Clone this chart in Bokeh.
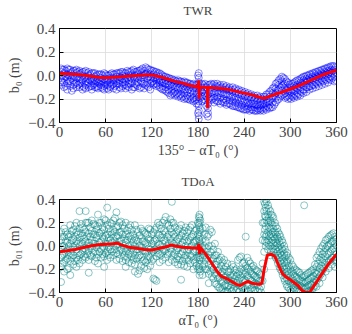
from bokeh.plotting import figure
from bokeh.layouts import column
from bokeh.models import Range1d, FixedTicker, Title
from bokeh.embed import file_html
from bokeh.resources import INLINE

# ---------------- data ----------------
x_ticks = [0, 60, 120, 180, 240, 300, 360]
y_ticks = [-0.4, -0.2, 0.0, 0.2, 0.4]
y_tick_labels = ["\u22120.4", "\u22120.2", "0.0", "0.2", "0.4"]

# TWR scatter: sample columns (x) and the y values seen at each
twr_sx = [2, 6, 10, 14, 18, 22, 26, 30, 34, 38, 42, 46, 50, 54, 58, 62, 66, 70, 74, 78,
          82, 86, 90, 94, 98, 102, 106, 110, 114, 118, 122, 126, 130, 134, 138, 142, 146,
          150, 154, 158, 162, 166, 170, 174, 178, 181, 185, 189, 193, 197, 201, 205, 209,
          213, 217, 221, 225, 229, 233, 237, 241, 245, 249, 253, 257, 261, 265, 269, 273,
          277, 281, 285, 289, 293, 297, 301, 305, 309, 313, 317, 321, 325, 329, 333, 337,
          341, 345, 349, 353, 357]
twr_sy = [
    [0.06, 0.03, 0.0, -0.04, -0.08], [0.05, 0.02, -0.02, -0.06, -0.1],
    [0.06, 0.01, -0.03, -0.07, -0.12], [0.05, 0.02, -0.01, -0.05, -0.09],
    [0.04, 0.0, -0.04, -0.08, -0.11], [0.05, 0.02, -0.02, -0.06, -0.1],
    [0.04, 0.01, -0.03, -0.07, -0.1], [0.03, 0.0, -0.04, -0.09, -0.12],
    [0.04, -0.01, -0.05, -0.08, -0.11], [0.03, 0.0, -0.03, -0.06, -0.1],
    [0.02, -0.02, -0.05, -0.09, -0.12], [0.02, -0.01, -0.04, -0.07, -0.1],
    [0.01, -0.03, -0.06, -0.09, -0.11], [0.01, -0.02, -0.05, -0.08, -0.1],
    [0.02, -0.03, -0.06, -0.09, -0.12], [0.0, -0.03, -0.05, -0.08, -0.11],
    [0.01, -0.02, -0.06, -0.09, -0.1], [0.01, -0.02, -0.04, -0.07, -0.11],
    [0.02, -0.01, -0.05, -0.08, -0.12], [0.02, -0.01, -0.04, -0.07, -0.1],
    [0.03, 0.0, -0.03, -0.06, -0.09], [0.02, -0.01, -0.05, -0.08, -0.11],
    [0.03, 0.0, -0.04, -0.07, -0.1], [0.04, 0.01, -0.03, -0.06, -0.12],
    [0.03, 0.0, -0.03, -0.07, -0.1], [0.04, 0.01, -0.02, -0.06, -0.09],
    [0.05, 0.02, -0.02, -0.05, -0.1], [0.04, 0.0, -0.03, -0.07, -0.11],
    [0.06, 0.02, -0.02, -0.06, -0.09], [0.05, 0.01, -0.03, -0.07, -0.12],
    [0.04, 0.01, -0.02, -0.05, -0.08], [0.03, 0.0, -0.04, -0.07, -0.09],
    [0.02, -0.01, -0.04, -0.06, -0.1], [0.0, -0.03, -0.06, -0.09, -0.12],
    [-0.01, -0.04, -0.07, -0.1, -0.13], [-0.02, -0.05, -0.08, -0.12, -0.15],
    [-0.03, -0.06, -0.09, -0.13, -0.16], [-0.04, -0.07, -0.1, -0.14, -0.17],
    [-0.04, -0.07, -0.11, -0.15, -0.18], [-0.05, -0.08, -0.12, -0.16, -0.19],
    [-0.05, -0.09, -0.12, -0.15, -0.2], [-0.06, -0.09, -0.13, -0.17, -0.2],
    [-0.07, -0.1, -0.14, -0.18, -0.21], [-0.07, -0.11, -0.15, -0.19, -0.22],
    [-0.08, -0.11, -0.15, -0.2, -0.24],
    [0.02, -0.02, -0.06, -0.1, -0.14, -0.18, -0.22, -0.26, -0.3, -0.34, -0.37],
    [-0.07, -0.1, -0.14, -0.18, -0.22], [-0.07, -0.1, -0.13, -0.17, -0.21],
    [-0.08, -0.12, -0.16, -0.2, -0.24, -0.28, -0.32, -0.35],
    [-0.07, -0.1, -0.14, -0.18, -0.21], [-0.07, -0.11, -0.15, -0.19, -0.23],
    [-0.07, -0.1, -0.14, -0.18, -0.22], [-0.08, -0.11, -0.15, -0.19, -0.24],
    [-0.08, -0.12, -0.16, -0.2, -0.23], [-0.09, -0.12, -0.16, -0.21, -0.25],
    [-0.1, -0.13, -0.17, -0.21, -0.24], [-0.1, -0.14, -0.18, -0.22, -0.26],
    [-0.11, -0.15, -0.19, -0.23, -0.26], [-0.12, -0.16, -0.2, -0.24, -0.27],
    [-0.13, -0.17, -0.21, -0.25, -0.28], [-0.14, -0.18, -0.22, -0.26, -0.29],
    [-0.15, -0.19, -0.23, -0.26, -0.28], [-0.16, -0.2, -0.24, -0.27, -0.29],
    [-0.17, -0.21, -0.24, -0.27, -0.3], [-0.17, -0.21, -0.25, -0.28, -0.3],
    [-0.18, -0.22, -0.25, -0.28, -0.3], [-0.18, -0.21, -0.24, -0.27, -0.3],
    [-0.16, -0.2, -0.23, -0.26, -0.29], [-0.14, -0.18, -0.22, -0.25, -0.28],
    [-0.11, -0.15, -0.19, -0.23, -0.27], [-0.07, -0.11, -0.15, -0.19, -0.23],
    [-0.04, -0.08, -0.12, -0.16, -0.2], [-0.01, -0.05, -0.09, -0.13, -0.17],
    [-0.03, -0.07, -0.11, -0.15, -0.19], [-0.06, -0.1, -0.13, -0.17, -0.2],
    [-0.07, -0.1, -0.14, -0.17, -0.2], [-0.06, -0.09, -0.13, -0.16, -0.19],
    [-0.04, -0.08, -0.11, -0.15, -0.18], [-0.03, -0.06, -0.1, -0.13, -0.17],
    [-0.01, -0.04, -0.08, -0.12, -0.15], [0.0, -0.03, -0.06, -0.1, -0.14],
    [0.01, -0.02, -0.05, -0.09, -0.12], [0.02, -0.01, -0.04, -0.08, -0.11],
    [0.03, 0.0, -0.03, -0.06, -0.1], [0.04, 0.01, -0.02, -0.05, -0.09],
    [0.05, 0.02, -0.01, -0.04, -0.08], [0.06, 0.03, 0.0, -0.03, -0.07],
    [0.07, 0.04, 0.01, -0.02, -0.06], [0.08, 0.05, 0.02, -0.01, -0.04],
    [0.08, 0.05, 0.02, -0.01, -0.05],
]
twr_sx2 = [4, 8, 12, 16, 20, 24, 28, 32, 36, 40, 44, 48, 52, 56, 60, 64, 68, 72, 76, 80,
           84, 88, 92, 96, 100, 104, 108, 112, 116, 120, 124, 128, 132, 136, 140, 144, 148,
           152, 156, 160, 164, 168, 172, 176, 180, 183, 187, 191, 195, 199, 203, 207, 211,
           215, 219, 223, 227, 231, 235, 239, 243, 247, 251, 255, 259, 263, 267, 271, 275,
           279, 283, 287, 291, 295, 299, 303, 307, 311, 315, 319, 323, 327, 331, 335, 339,
           343, 347, 351, 355, 359]
twr_sy2 = [
    [0.05, 0.0, -0.06], [0.04, -0.01, -0.09], [0.05, 0.0, -0.05], [0.03, -0.02, -0.13],
    [0.04, -0.01, -0.07], [0.03, -0.02, -0.08], [0.02, -0.03, -0.06], [0.03, -0.02, -0.1],
    [0.02, -0.03, -0.07], [0.01, -0.04, -0.09], [0.02, -0.03, -0.08], [0.0, -0.05, -0.1],
    [0.01, -0.04, -0.07], [0.0, -0.05, -0.11], [0.01, -0.04, -0.08], [0.0, -0.04, -0.12],
    [0.02, -0.03, -0.08], [0.01, -0.04, -0.09], [0.02, -0.03, -0.07], [0.03, -0.02, -0.11],
    [0.02, -0.03, -0.08], [0.04, -0.02, -0.09], [0.03, -0.02, -0.07], [0.05, -0.01, -0.1],
    [0.03, -0.02, -0.08], [0.04, -0.01, -0.11], [0.06, 0.0, -0.07], [0.07, 0.01, -0.08],
    [0.05, -0.01, -0.1], [0.04, -0.01, -0.06], [0.03, -0.02, -0.07], [0.02, -0.03, -0.08],
    [0.01, -0.05, -0.11], [-0.01, -0.06, -0.12], [-0.02, -0.07, -0.14],
    [-0.03, -0.08, -0.17], [-0.04, -0.09, -0.15], [-0.05, -0.1, -0.16],
    [-0.05, -0.1, -0.17], [-0.06, -0.11, -0.18], [-0.06, -0.12, -0.19],
    [-0.07, -0.12, -0.2], [-0.08, -0.13, -0.2], [-0.08, -0.13, -0.21],
    [0.0, -0.08, -0.16, -0.24, -0.32], [-0.08, -0.13, -0.19], [-0.08, -0.12, -0.2],
    [-0.1, -0.18, -0.26, -0.33], [-0.08, -0.13, -0.2], [-0.08, -0.14, -0.2],
    [-0.09, -0.14, -0.21], [-0.09, -0.15, -0.22], [-0.1, -0.15, -0.22],
    [-0.1, -0.16, -0.23], [-0.11, -0.17, -0.24], [-0.12, -0.18, -0.25],
    [-0.12, -0.19, -0.26], [-0.13, -0.2, -0.27], [-0.14, -0.21, -0.28],
    [-0.15, -0.22, -0.29], [-0.16, -0.23, -0.29], [-0.17, -0.24, -0.3],
    [-0.18, -0.24, -0.29], [-0.19, -0.25, -0.3], [-0.19, -0.26, -0.29],
    [-0.2, -0.25, -0.29], [-0.18, -0.24, -0.28], [-0.16, -0.22, -0.27],
    [-0.13, -0.2, -0.27], [-0.1, -0.17, -0.25], [-0.06, -0.13, -0.21],
    [-0.03, -0.1, -0.18], [-0.02, -0.08, -0.16], [-0.05, -0.12, -0.18],
    [-0.08, -0.13, -0.19], [-0.07, -0.12, -0.18], [-0.05, -0.1, -0.17],
    [-0.04, -0.09, -0.16], [-0.02, -0.07, -0.14], [-0.01, -0.05, -0.12],
    [0.0, -0.04, -0.1], [0.01, -0.03, -0.09], [0.02, -0.02, -0.08], [0.03, -0.01, -0.07],
    [0.04, 0.0, -0.06], [0.05, 0.01, -0.05], [0.06, 0.02, -0.04], [0.07, 0.03, -0.03],
    [0.08, 0.04, -0.02], [0.07, 0.03, -0.04],
]

# TWR mean line
twr_lx = [0, 10, 20, 30, 40, 50, 60, 70, 80, 90, 100, 110, 120, 130, 140, 150, 160, 170,
          178, 180, 181, 181.5, 182, 190, 192, 192.5, 193, 200, 210, 220, 230, 240, 250,
          260, 266, 270, 280, 290, 300, 310, 320, 330, 340, 350, 360]
twr_ly = [0.02, 0.015, 0.01, 0.005, -0.005, -0.015, -0.02, -0.015, -0.01, -0.005, 0.0,
          0.005, 0.005, -0.01, -0.03, -0.05, -0.065, -0.085, -0.095, -0.1, -0.04, -0.2,
          -0.1, -0.1, -0.1, -0.28, -0.1, -0.105, -0.11, -0.12, -0.135, -0.15, -0.165,
          -0.185, -0.195, -0.185, -0.16, -0.14, -0.115, -0.09, -0.06, -0.03, 0.0, 0.025,
          0.045]

# TDoA scatter
tdoa_sx = [2, 6, 10, 14, 18, 22, 26, 30, 34, 38, 42, 46, 50, 54, 58, 62, 66, 70, 74, 78,
           82, 86, 90, 94, 98, 102, 106, 110, 114, 118, 122, 126, 130, 134, 138, 142, 146,
           150, 154, 158, 162, 166, 170, 174, 178, 182, 186, 190, 194, 198, 202, 206, 210,
           214, 218, 222, 226, 230, 234, 238, 242, 246, 250, 254, 258, 262, 266, 268, 271,
           274, 277, 280, 283, 286, 289, 292, 295, 298, 302, 306, 310, 314, 318, 322, 326,
           330, 334, 338, 342, 346, 350, 354, 358]
tdoa_sy = [
    [0.12, 0.05, -0.02, -0.1, -0.18, -0.31], [0.15, 0.08, 0.0, -0.07, -0.14, -0.22],
    [0.1, 0.03, -0.04, -0.11, -0.2], [0.18, 0.1, 0.02, -0.06, -0.13, -0.25],
    [0.14, 0.06, -0.01, -0.08, -0.16], [0.2, 0.12, 0.04, -0.03, -0.1, -0.18],
    [0.3, 0.15, 0.07, 0.0, -0.08, -0.15], [0.16, 0.09, 0.02, -0.05, -0.12],
    [0.3, 0.2, 0.12, 0.04, -0.03, -0.1], [0.2, 0.11, 0.03, -0.04, -0.12, -0.23],
    [0.22, 0.13, 0.05, -0.02, -0.09], [0.18, 0.1, 0.02, -0.05, -0.13],
    [0.27, 0.17, 0.09, 0.01, -0.07, -0.15], [0.2, 0.12, 0.04, -0.03, -0.1],
    [0.23, 0.14, 0.06, -0.02, -0.09, -0.18], [0.33, 0.18, 0.1, 0.02, -0.05, -0.12],
    [0.2, 0.12, 0.05, -0.03, -0.1], [0.22, 0.14, 0.07, 0.0, -0.08],
    [0.29, 0.16, 0.08, 0.01, -0.06, -0.12], [0.2, 0.12, 0.04, -0.04, -0.11],
    [0.18, 0.1, 0.02, -0.05, -0.13], [0.2, 0.1, 0.03, -0.05, -0.12, -0.18],
    [0.16, 0.08, 0.0, -0.07, -0.14], [0.14, 0.06, -0.02, -0.09, -0.15],
    [0.18, 0.07, 0.0, -0.08, -0.16, -0.22], [0.12, 0.04, -0.03, -0.1, -0.24],
    [0.15, 0.06, -0.02, -0.1, -0.17], [0.12, 0.04, -0.04, -0.12, -0.19],
    [0.1, 0.02, -0.05, -0.12, -0.2], [0.14, 0.05, -0.03, -0.1, -0.17],
    [0.12, 0.04, -0.04, -0.11, -0.28], [0.16, 0.06, -0.02, -0.09, -0.3],
    [0.18, 0.09, 0.01, -0.07, -0.14], [0.2, 0.1, 0.02, -0.05, -0.12],
    [0.25, 0.12, 0.04, -0.03, -0.1], [0.18, 0.1, 0.02, -0.06, -0.14],
    [0.38, 0.2, 0.12, 0.03, -0.05, -0.12], [0.16, 0.08, 0.0, -0.07, -0.14],
    [0.14, 0.06, -0.02, -0.09, -0.16], [0.18, 0.09, 0.01, -0.07, -0.16, -0.29],
    [0.13, 0.05, -0.03, -0.1, -0.17], [0.12, 0.04, -0.04, -0.11, -0.18],
    [0.16, 0.07, -0.01, -0.08, -0.15], [0.1, 0.03, -0.05, -0.12, -0.2],
    [0.14, 0.05, -0.03, -0.1, -0.17],
    [0.27, 0.24, 0.2, 0.16, 0.12, 0.08, 0.04, 0.0, -0.04, -0.08, -0.12, -0.16, -0.2, -0.25],
    [0.15, 0.06, -0.02, -0.1, -0.18, -0.25], [0.16, 0.04, -0.05, -0.12, -0.2],
    [0.1, 0.0, -0.08, -0.16, -0.24, -0.32], [0.12, 0.0, -0.1, -0.18, -0.26],
    [0.02, -0.08, -0.16, -0.24, -0.32], [-0.05, -0.13, -0.21, -0.28, -0.35],
    [-0.1, -0.17, -0.24, -0.31, -0.38], [-0.12, -0.2, -0.27, -0.34, -0.4],
    [-0.15, -0.22, -0.29, -0.35, -0.39], [-0.2, -0.25, -0.3, -0.36],
    [-0.18, -0.25, -0.31, -0.37], [-0.2, -0.26, -0.32, -0.38],
    [-0.1, -0.22, -0.28, -0.34, -0.39], [-0.15, -0.24, -0.3, -0.36],
    [0.08, -0.17, -0.23, -0.3, -0.37], [-0.13, -0.2, -0.27, -0.33, -0.39],
    [-0.18, -0.24, -0.3, -0.36], [-0.2, -0.26, -0.32, -0.38],
    [-0.22, -0.28, -0.34, -0.39], [-0.25, -0.3, -0.35, -0.4],
    [0.38, 0.3, 0.2, 0.1, -0.05, -0.2], [0.4, 0.33, 0.25, 0.17, 0.08, 0.0],
    [0.35, 0.27, 0.2, 0.12, 0.05, -0.03], [0.3, 0.22, 0.15, 0.08, 0.0, -0.08],
    [0.26, 0.18, 0.12, 0.05, -0.02], [0.2, 0.12, 0.06, 0.0, -0.08],
    [0.15, 0.08, 0.02, -0.05, -0.12], [0.1, 0.04, -0.03, -0.1, -0.18],
    [0.05, -0.02, -0.08, -0.15, -0.22], [0.0, -0.07, -0.14, -0.2, -0.28],
    [-0.08, -0.14, -0.2, -0.27, -0.33], [-0.1, -0.17, -0.24, -0.3, -0.36],
    [-0.16, -0.22, -0.28, -0.34, -0.39], [-0.2, -0.26, -0.32, -0.37],
    [-0.22, -0.28, -0.34, -0.39], [-0.25, -0.3, -0.35, -0.39],
    [0.35, -0.26, -0.32, -0.37], [-0.24, -0.3, -0.35, -0.39],
    [-0.22, -0.28, -0.33, -0.38], [-0.2, -0.26, -0.31, -0.36],
    [-0.1, -0.18, -0.24, -0.3, -0.35], [-0.05, -0.12, -0.19, -0.26, -0.32],
    [0.0, -0.07, -0.14, -0.21, -0.27], [0.05, -0.02, -0.09, -0.16, -0.22],
    [0.08, 0.01, -0.06, -0.13, -0.19], [0.1, 0.04, -0.03, -0.1, -0.16],
    [0.08, 0.02, -0.05, -0.12, -0.18],
]
tdoa_sx2 = [4, 8, 12, 16, 20, 24, 28, 32, 36, 40, 44, 48, 52, 56, 60, 64, 68, 72, 76, 80,
            84, 88, 92, 96, 100, 104, 108, 112, 116, 120, 124, 128, 132, 136, 140, 144,
            148, 152, 156, 160, 164, 168, 172, 176, 180, 181, 183, 188, 192, 196, 200, 204,
            208, 212, 216, 220, 224, 228, 232, 236, 240, 244, 248, 252, 256, 260, 264, 267,
            269, 272, 275, 278, 281, 284, 287, 290, 293, 296, 300, 304, 308, 312, 316, 320,
            324, 328, 332, 336, 340, 344, 348, 352, 356, 360]
tdoa_sy2 = [
    [0.08, 0.0, -0.08, -0.15], [0.12, 0.04, -0.05, -0.12], [0.08, 0.0, -0.08, -0.19],
    [0.13, 0.05, -0.03, -0.1], [0.17, 0.08, 0.0, -0.13], [0.1, 0.02, -0.06, -0.12],
    [0.19, 0.11, 0.03, -0.07], [0.14, 0.06, -0.02, -0.09], [0.2, 0.08, 0.0, -0.07],
    [0.16, 0.08, 0.0, -0.08], [0.19, 0.1, 0.02, -0.06], [0.14, 0.07, -0.01, -0.1],
    [0.2, 0.11, 0.03, -0.05], [0.16, 0.08, 0.0, -0.07], [0.22, 0.09, 0.02, -0.06],
    [0.15, 0.07, -0.01, -0.08], [0.19, 0.1, 0.03, -0.05], [0.24, 0.12, 0.04, -0.03],
    [0.17, 0.09, 0.01, -0.07], [0.21, 0.12, 0.05, -0.03], [0.15, 0.06, -0.02, -0.09],
    [0.13, 0.05, -0.03, -0.1], [0.18, 0.09, 0.01, -0.06], [0.1, 0.03, -0.05, -0.12],
    [0.14, 0.05, -0.03, -0.11], [0.09, 0.0, -0.08, -0.21], [0.13, 0.04, -0.04, -0.13],
    [0.11, 0.03, -0.05, -0.14], [0.15, 0.06, -0.02, -0.09], [0.1, 0.02, -0.06, -0.13],
    [0.14, 0.05, -0.03, -0.29], [0.2, 0.1, 0.02, -0.06], [0.15, 0.07, -0.01, -0.08],
    [0.22, 0.13, 0.05, -0.04], [0.19, 0.08, 0.0, -0.07], [0.23, 0.15, 0.06, -0.02],
    [0.2, 0.1, 0.02, -0.08], [0.12, 0.04, -0.04, -0.11], [0.15, 0.07, -0.01, -0.12],
    [0.11, 0.03, -0.05, -0.13], [0.16, 0.08, 0.0, -0.08], [0.14, 0.05, -0.03, -0.12],
    [0.18, 0.08, 0.0, -0.09], [0.13, 0.04, -0.05, -0.14],
    [0.2, 0.1, 0.0, -0.1, -0.2], [0.25, 0.18, 0.06, -0.06, -0.18],
    [0.22, 0.14, 0.02, -0.1, -0.22], [0.1, 0.0, -0.08, -0.16], [0.08, -0.02, -0.1, -0.2],
    [0.14, -0.05, -0.13, -0.22], [-0.03, -0.11, -0.2, -0.28], [-0.08, -0.16, -0.25, -0.33],
    [-0.12, -0.2, -0.27, -0.36], [-0.14, -0.22, -0.3, -0.37], [-0.18, -0.26, -0.33, -0.39],
    [-0.22, -0.28, -0.34], [-0.16, -0.27, -0.33, -0.39], [-0.21, -0.28, -0.35],
    [-0.12, -0.24, -0.3, -0.37], [-0.09, -0.2, -0.27, -0.35], [-0.14, -0.21, -0.29, -0.38],
    [-0.1, -0.19, -0.26, -0.34], [-0.15, -0.22, -0.29, -0.37], [-0.17, -0.25, -0.33, -0.39],
    [-0.21, -0.27, -0.33], [-0.24, -0.3, -0.37], [0.2, 0.05, -0.15, -0.3],
    [0.36, 0.26, 0.14, 0.04], [0.38, 0.3, 0.22, 0.1, 0.03], [0.32, 0.24, 0.16, 0.09, 0.01],
    [0.27, 0.2, 0.1, 0.03, -0.05], [0.24, 0.15, 0.08, 0.02, -0.05],
    [0.17, 0.1, 0.03, -0.03, -0.1], [0.12, 0.06, -0.01, -0.08, -0.15],
    [0.08, 0.01, -0.06, -0.13, -0.2], [0.03, -0.04, -0.11, -0.18, -0.25],
    [-0.03, -0.1, -0.17, -0.24, -0.3], [-0.06, -0.13, -0.22, -0.29, -0.35],
    [-0.12, -0.2, -0.26, -0.32, -0.38], [-0.18, -0.24, -0.3, -0.36],
    [-0.21, -0.27, -0.33, -0.38], [-0.23, -0.29, -0.34, -0.39], [-0.27, -0.31, -0.36],
    [-0.25, -0.31, -0.36], [-0.23, -0.29, -0.34, -0.39], [-0.21, -0.27, -0.33, -0.38],
    [-0.16, -0.23, -0.29, -0.34], [-0.08, -0.15, -0.22, -0.28], [-0.02, -0.1, -0.17, -0.24],
    [0.02, -0.05, -0.12, -0.19], [0.06, 0.0, -0.07, -0.14], [0.09, 0.02, -0.05, -0.12],
    [0.11, 0.04, -0.02, -0.1], [0.06, 0.0, -0.07, -0.14],
]

# TDoA mean line
tdoa_lx = [0, 10, 20, 30, 40, 50, 60, 70, 75, 80, 90, 100, 110, 120, 130, 140, 145, 150,
           160, 170, 180, 181, 182, 183, 185, 190, 195, 200, 205, 210, 220, 230, 235, 240,
           245, 250, 260, 263, 266, 270, 275, 280, 285, 290, 295, 300, 310, 315, 320, 325,
           330, 340, 350, 360]
tdoa_ly = [-0.05, -0.04, -0.03, -0.015, 0.0, 0.01, 0.015, 0.02, 0.025, 0.01, -0.01, -0.02,
           -0.03, -0.035, -0.02, -0.005, 0.01, 0.0, -0.01, -0.015, -0.02, 0.02, -0.07,
           -0.01, -0.03, -0.07, -0.12, -0.17, -0.22, -0.26, -0.29, -0.33, -0.34, -0.32,
           -0.305, -0.32, -0.33, -0.32, -0.2, -0.08, -0.07, -0.09, -0.17, -0.24, -0.27,
           -0.29, -0.34, -0.38, -0.4, -0.4, -0.35, -0.25, -0.15, -0.07]

FONT = "Liberation Serif"


def flatten(xs, ys):
    fx, fy = [], []
    for x, col in zip(xs, ys):
        for y in col:
            fx.append(x)
            fy.append(y)
    return fx, fy


def make_fig(title, ylabel, xlabel, height, top, bottom, gap):
    p = figure(width=352, height=height, output_backend="svg", toolbar_location=None,
               x_range=Range1d(0, 360), y_range=Range1d(-0.4, 0.4),
               min_border_left=59, min_border_right=16,
               min_border_top=top, min_border_bottom=bottom, title=None)
    # spacer title next to the frame, then the visible title above it
    p.add_layout(Title(text="\u00a0", text_font_size=f"{gap}px", standoff=0,
                       text_color="white"), "above")
    p.add_layout(Title(text=title, align="center", text_font=FONT,
                       text_font_size="13px", text_font_style="normal", standoff=0),
                 "above")
    p.outline_line_color = "black"
    p.outline_line_width = 1
    p.background_fill_color = "white"
    p.border_fill_color = "white"
    p.xaxis.ticker = FixedTicker(ticks=x_ticks)
    p.yaxis.ticker = FixedTicker(ticks=y_ticks)
    p.yaxis.major_label_overrides = {v: s for v, s in zip(y_ticks, y_tick_labels)}
    for ax in (p.xaxis, p.yaxis):
        ax.major_label_text_font = FONT
        ax.major_label_text_font_size = "15px"
        ax.axis_label_text_font = FONT
        ax.axis_label_text_font_size = "14px"
        ax.axis_label_text_font_style = "normal"
        ax.major_tick_in = 4
        ax.major_tick_out = 0
        ax.minor_tick_in = 0
        ax.minor_tick_out = 0
        ax.axis_line_color = "black"
        ax.major_label_standoff = 4
        ax.axis_label_standoff = 3
    p.xaxis.axis_label = xlabel
    p.yaxis.axis_label = ylabel
    p.grid.grid_line_color = "#dcdcdc"
    p.grid.grid_line_width = 0.8
    return p


p1 = make_fig("TWR", "b\u2080 (m)", "135\u00b0 \u2212 \u03b1T\u2080 (\u00b0)", 168, 28, 46, 8)
fx, fy = flatten(twr_sx + twr_sx2, twr_sy + twr_sy2)
p1.scatter(fx, fy, marker="circle", size=7, fill_alpha=0, line_color="blue",
           line_alpha=0.45, line_width=1)
p1.line(twr_lx, twr_ly, line_color="red", line_width=3)

p2 = make_fig("TDoA", "b\u2080\u2081 (m)", "\u03b1T\u2080 (\u00b0)", 166, 31, 42, 8)
fx, fy = flatten(tdoa_sx + tdoa_sx2, tdoa_sy + tdoa_sy2)
p2.scatter(fx, fy, marker="circle", size=7, fill_alpha=0, line_color="teal",
           line_alpha=0.45, line_width=1)
p2.line(tdoa_lx, tdoa_ly, line_color="red", line_width=3)

layout = column(p1, p2, spacing=0)
open("out.html", "w").write(file_html(layout, INLINE))
